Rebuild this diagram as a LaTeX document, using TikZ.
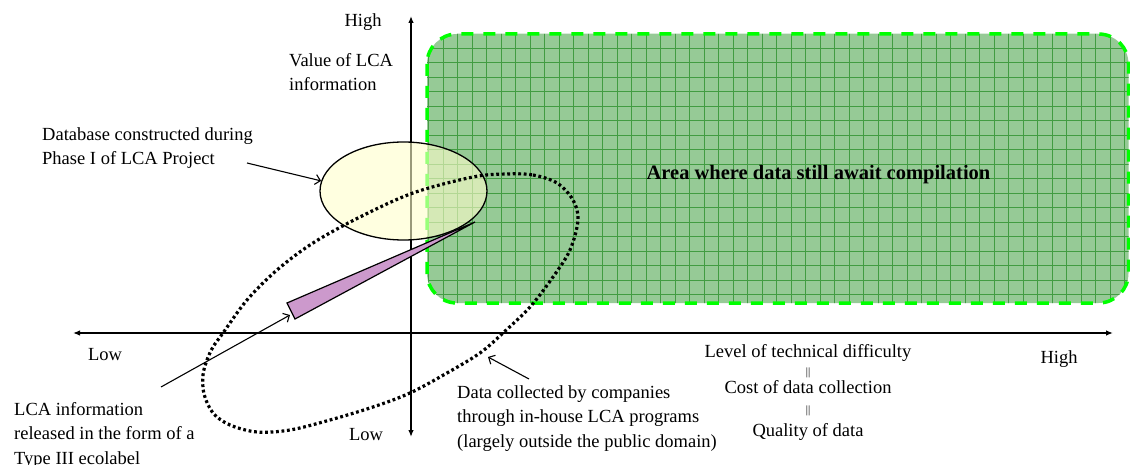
\documentclass[tikz,border=0pt]{standalone}
\usepackage{fontspec}
\setmainfont{Liberation Serif}
\usetikzlibrary{arrows.meta,shapes.geometric}

\definecolor{areagreen}{RGB}{150,202,150}
\definecolor{gridgreen}{RGB}{66,156,66}
\definecolor{edgegreen}{RGB}{0,255,0}
\definecolor{dbyellow}{RGB}{255,255,204}
\definecolor{ecopurple}{RGB}{204,153,204}

\begin{document}
\begin{tikzpicture}[x=1pt,y=-1pt,
  txt/.style={inner sep=0pt,align=left,font=\fontsize{18.5}{24.5}\selectfont},
  bold/.style={inner sep=0pt,font=\fontsize{20.5}{24}\selectfont\bfseries},
  bars/.style={inner sep=0pt,font=\fontsize{11}{11}\selectfont},
  axis/.style={{Latex[length=7pt,width=5.5pt]}-{Latex[length=7pt,width=5.5pt]},line width=1.3pt},
  arr/.style={-{Straight Barb[length=5pt,width=10pt]},line width=1.1pt},
  gridline/.style={gridgreen,line width=0.8pt},
  dbell/.style={ellipse,draw,line width=1.3pt,fill=dbyellow,fill opacity=0.6,minimum width=167pt,minimum height=98pt,inner sep=0pt},
  loopline/.style={line width=3.2pt,dash pattern=on 2.8pt off 2.7pt}]
  \fill[white] (0,0) rectangle (1130,465);
  \useasboundingbox (0,0) rectangle (1130,465);

  % area still to be compiled
  \fill[areagreen,rounded corners=30pt] (427,34) rectangle (1128.5,303);
  \begin{scope}
    \clip[rounded corners=30pt] (427,34) rectangle (1128.5,303);
    \foreach \gx in {0,...,49} \draw[gridline] (428.8+\gx*14.5,30) -- ++(0,280);
    \foreach \gy in {0,...,19} \draw[gridline] (425,33.8+\gy*14.5) -- ++(710,0);
  \end{scope}
  \draw[edgegreen,line width=3.5pt,dash pattern=on 12pt off 10pt,rounded corners=30pt] (427,34) rectangle (1128.5,303);
  \node[bold,anchor=base] (area) at (818.5,180) {Area where data still await compilation};

  % axes
  \coordinate (ytop) at (411,16);
  \coordinate (ybot) at (411,437);
  \coordinate (xleft) at (73,333);
  \coordinate (xright) at (1113,333);
  \draw[axis] (ybot) -- (ytop);
  \draw[axis] (xleft) -- (xright);

  \node[dbell] (db) at (403.5,191) {};

  % type III ecolabel wedge
  \coordinate (wtip) at (475,222);
  \coordinate (wa) at (287,303);
  \coordinate (wb) at (295,319);
  \draw[line width=1.2pt,fill=ecopurple] (wtip) -- (wa) -- (wb) -- cycle;

  % in-house data
  \draw[loopline] plot[smooth cycle,tension=0.55] coordinates {(507,174) (533,175) (557,183) (573,200) (578,220) (570,250) (553,277) (530,307) (503,333) (480,353) (447,373) (410,393) (373,407) (330,420) (290,430) (257,432) (230,425) (213,413) (204,394) (203,375) (207,360) (213,347) (223,333) (247,300) (277,270) (313,243) (360,217) (413,193) (473,177)};

  \node[txt,anchor=base] (yhigh) at (363,27) {High};
  \node[txt,anchor=base west] (yname) at (289,91) {Value of LCA\\information};
  \node[txt,anchor=base west] (dbtxt) at (42,165) {Database constructed during\\Phase I of LCA Project};
  \node[txt,anchor=base] (xlow) at (105,360) {Low};
  \node[txt,anchor=base west] (ecotxt) at (14,464) {LCA information\\released in the form of a\\Type III ecolabel};
  \node[txt,anchor=base] (ylow) at (366,440) {Low};
  \node[txt,anchor=base west] (cotxt) at (457,447) {Data collected by companies\\through in-house LCA programs\\(largely outside the public domain)};
  \node[txt,anchor=base] (lvl) at (808,357) {Level of technical difficulty};
  \node[bars] (eq1) at (808,373) {||};
  \node[txt,anchor=base] (cost) at (808,393) {Cost of data collection};
  \node[bars] (eq2) at (808,411) {||};
  \node[txt,anchor=base] (qual) at (808,436) {Quality of data};
  \node[txt,anchor=base] (xhigh) at (1059,363) {High};

  \coordinate (dbfrom) at (247,163);
  \coordinate (ecofrom) at (161,387);
  \coordinate (ecoto) at (290,315);
  \coordinate (cofrom) at (529,379);
  \coordinate (coto) at (488,357);
  \draw[arr] (dbfrom) -- (db.173);
  \draw[arr] (ecofrom) -- (ecoto);
  \draw[arr] (cofrom) -- (coto);
\end{tikzpicture}
\end{document}
